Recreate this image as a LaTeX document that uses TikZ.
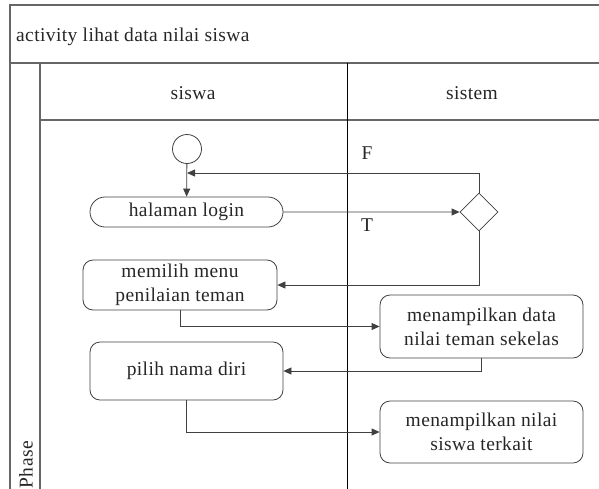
\documentclass[tikz,border=0pt]{standalone}
\usepackage{fontspec}
\setmainfont[LetterSpace=2]{Liberation Serif}
\usetikzlibrary{arrows.meta,positioning,shapes.geometric,shapes.misc}

\begin{document}
\begin{tikzpicture}[x=1pt, y=-1pt,
  txt/.style={font=\fontsize{19.5}{24}\selectfont, text=black!85, inner sep=0pt},
  act/.style={txt, draw=black!75, thick, rounded corners=10pt, align=center},
  pill/.style={txt, draw=black!75, thick, rounded rectangle, minimum width=193pt, minimum height=30pt},
  frame/.style={draw=black!60, line width=1.3pt},
  arr/.style={-{Triangle[length=8pt,width=7pt]}, thick, black!75},
]
  \useasboundingbox (0,0) rectangle (599,488);

  % swimlane frame
  \draw[frame] (599,5) -- (10,5) -- (10,500);
  \draw[frame] (10,63) -- (599,63);
  \draw[frame] (40,63) -- (40,500);
  \draw[frame] (40,120) -- (599,120);
  \draw[black, semithick] (347,63) -- (347,500);

  \node[txt, anchor=west] (title) at (16,37) {activity lihat data nilai siswa};
  \node[txt] (lsiswa) at (193,93) {siswa};
  \node[txt] (lsistem) at (472,93) {sistem};
  \node[txt, rotate=90, anchor=east] (phase) at (26,441) {Phase};

  % activities
  \node[circle, draw=black!75, thick, minimum size=29pt, inner sep=0pt] (start) at (187,149) {};
  \node[pill] (login) at (186.5,212) {halaman login};
  \node[diamond, draw=black!75, thick, minimum width=38pt, minimum height=38pt, inner sep=0pt] (dec) at (479,212) {};
  \node[act, minimum width=194pt, minimum height=50pt] (menu) at (180,285) {memilih menu\\penilaian teman};
  \node[act, minimum width=203pt, minimum height=63pt] (data) at (481.5,326.5) {menampilkan data\\nilai teman sekelas};
  \node[act, minimum width=193pt, minimum height=58pt] (pilih) at (186.5,371) {pilih nama diri};
  \node[act, minimum width=203pt, minimum height=62pt] (hasil) at (481.5,432) {menampilkan nilai\\siswa terkait};

  \node[txt] (lf) at (367,153) {F};
  \node[txt] (lt) at (367,225) {T};

  \coordinate (back) at (start.south |- 0,173);

  \draw[arr] (start) -- (login);
  \draw[arr] (login) -- (dec);
  \draw[arr] (dec.north) |- (back);
  \draw[arr] (dec.south) |- (menu.east);
  \draw[arr] (menu.south) |- (data.west);
  \draw[arr] (data.south) |- (pilih.east);
  \draw[arr] (pilih.south) |- (hasil.west);
\end{tikzpicture}
\end{document}
